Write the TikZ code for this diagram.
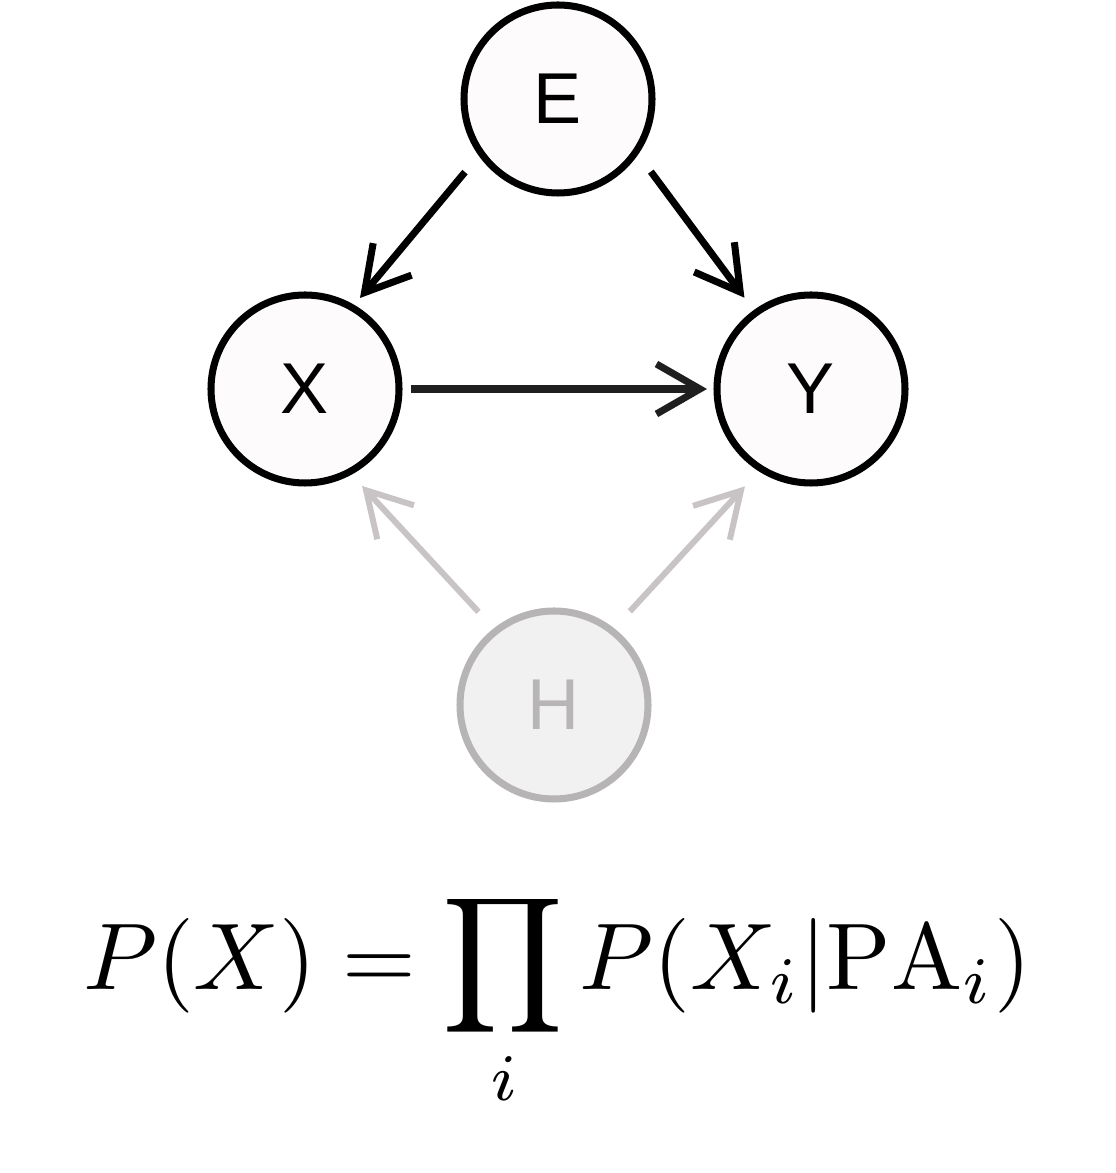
\documentclass[tikz,border=0pt]{standalone}
\usepackage{amsmath}
\usepackage{fontspec}
\usepackage{tikz}
\usetikzlibrary{arrows.meta}
\newfontfamily\labelfont{Liberation Sans}
\definecolor{nodefill}{HTML}{FDFBFC}
\definecolor{hiddenfill}{HTML}{F2F1F2}
\definecolor{hiddenline}{HTML}{B6B4B5}
\definecolor{hiddenarrow}{HTML}{C8C3C4}
\definecolor{hiddentext}{HTML}{B8B5B6}
\tikzset{
    var/.style={circle, draw=black, fill=nodefill, line width=4pt, minimum size=3.76cm, inner sep=0pt, outer sep=0pt, font=\labelfont\fontsize{41}{41}\selectfont, text=black},
    hiddenvar/.style={var, draw=hiddenline, fill=hiddenfill, text=hiddentext},
    edge/.style={line width=4pt, draw=black, -{Straight Barb[length=0.87cm, width=1cm, line width=4pt]}},
    hiddenedge/.style={line width=3.4pt, draw=hiddenarrow, -{Straight Barb[length=0.87cm, width=1cm, line width=3.4pt]}}
}
\begin{document}
\begin{tikzpicture}
            \useasboundingbox (0, 0) rectangle (22.32, 23.46);

            % Variables
            \node[var] (E) at (11.16, 21.48) {E};
            \node[var] (X) at (6.1, 15.68) {X};
            \node[var] (Y) at (16.22, 15.68) {Y};
            \node[hiddenvar] (H) at (11.08, 9.36) {H};

            % Edges
            \draw[edge, shorten <=0.5cm, shorten >=0.25cm] (E.215) -- (X.60);
            \draw[edge, shorten <=0.5cm, shorten >=0.38cm] (E.-34) -- (Y.126);
            \draw[edge, draw=black!88, shorten <=0.24cm, shorten >=0.2cm] (X.east) -- (Y.west);

            % Hidden edges
            \draw[hiddenedge, shorten <=0.52cm, shorten >=0.38cm] (H.128) -- (X.-62);
            \draw[hiddenedge, shorten <=0.53cm, shorten >=0.48cm] (H.52) -- (Y.238);

            % Factorization
            \node[scale=5.39] (formula) at (11.14, 3.46) {\(\displaystyle P(X) = \prod_i P(X_i|\mathrm{PA}_i)\)};
        \end{tikzpicture}
\end{document}
